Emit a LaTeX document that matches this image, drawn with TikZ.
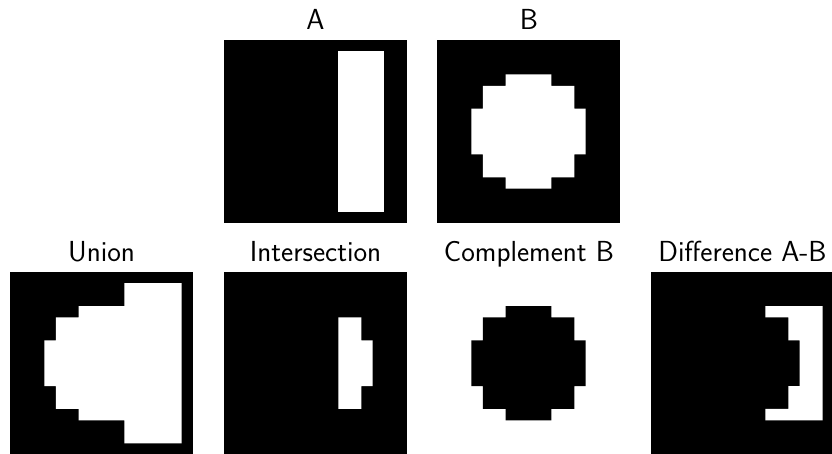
\documentclass[tikz,border=0pt]{standalone}
\usepackage{fontspec}
\tikzset{
  paneltitle/.style={anchor=base, inner sep=0pt, font=\sffamily\fontsize{29}{34}\selectfont},
  pixelgrid/.style={x=11.4375pt, y=-11.4375pt},
  pxblack/.style={fill=black},
  pxwhite/.style={fill=white}
}
\begin{document}
\begin{tikzpicture}[x=1pt, y=-1pt]
\useasboundingbox (0,0) rectangle (832,453);
\clip (0,0) rectangle (832,453);
% labels
\node[paneltitle] (la) at (315.5,29.3) {A};
\node[paneltitle] (lb) at (529,29.3) {B};
\node[paneltitle] (lu) at (101.5,261) {Union};
\node[paneltitle] (li) at (315.5,261) {Intersection};
\node[paneltitle] (lc) at (529,261) {Complement B};
\node[paneltitle] (ld) at (742.5,261) {Difference A-B};
% A
\begin{scope}[xshift=224pt, yshift=-40pt, pixelgrid]
  \fill[pxblack] (0,0) rectangle (16,16);
  \fill[pxwhite] (10,1) rectangle (14,15);
\end{scope}
% B
\begin{scope}[xshift=437pt, yshift=-40pt, pixelgrid]
  \fill[pxblack] (0,0) rectangle (16,16);
  \fill[pxwhite] (6,3) rectangle (10,4) (4,4) rectangle (12,6) (3,6) rectangle (13,10)
              (4,10) rectangle (12,12) (6,12) rectangle (10,13);
\end{scope}
% Union
\begin{scope}[xshift=10pt, yshift=-271.7pt, pixelgrid]
  \fill[pxblack] (0,0) rectangle (16,16);
  \fill[pxwhite] (6,3) rectangle (10,4) (4,4) rectangle (12,6) (3,6) rectangle (13,10)
              (4,10) rectangle (12,12) (6,12) rectangle (10,13) (10,1) rectangle (15,15);
\end{scope}
% Intersection
\begin{scope}[xshift=224pt, yshift=-271.7pt, pixelgrid]
  \fill[pxblack] (0,0) rectangle (16,16);
  \fill[pxwhite] (10,4) rectangle (12,12) (10,6) rectangle (13,10);
\end{scope}
% Complement B
\begin{scope}[xshift=437pt, yshift=-271.7pt, pixelgrid]
  \fill[pxblack] (6,3) rectangle (10,4) (4,4) rectangle (12,6) (3,6) rectangle (13,10)
              (4,10) rectangle (12,12) (6,12) rectangle (10,13);
\end{scope}
% Difference A-B
\begin{scope}[xshift=651pt, yshift=-271.7pt, pixelgrid]
  \fill[pxblack] (0,0) rectangle (16,16);
  \fill[pxwhite] (10,3) rectangle (15,4) (12,4) rectangle (15,6) (13,6) rectangle (15,10)
              (12,10) rectangle (15,12) (10,12) rectangle (15,13);
\end{scope}
\end{tikzpicture}
\end{document}
